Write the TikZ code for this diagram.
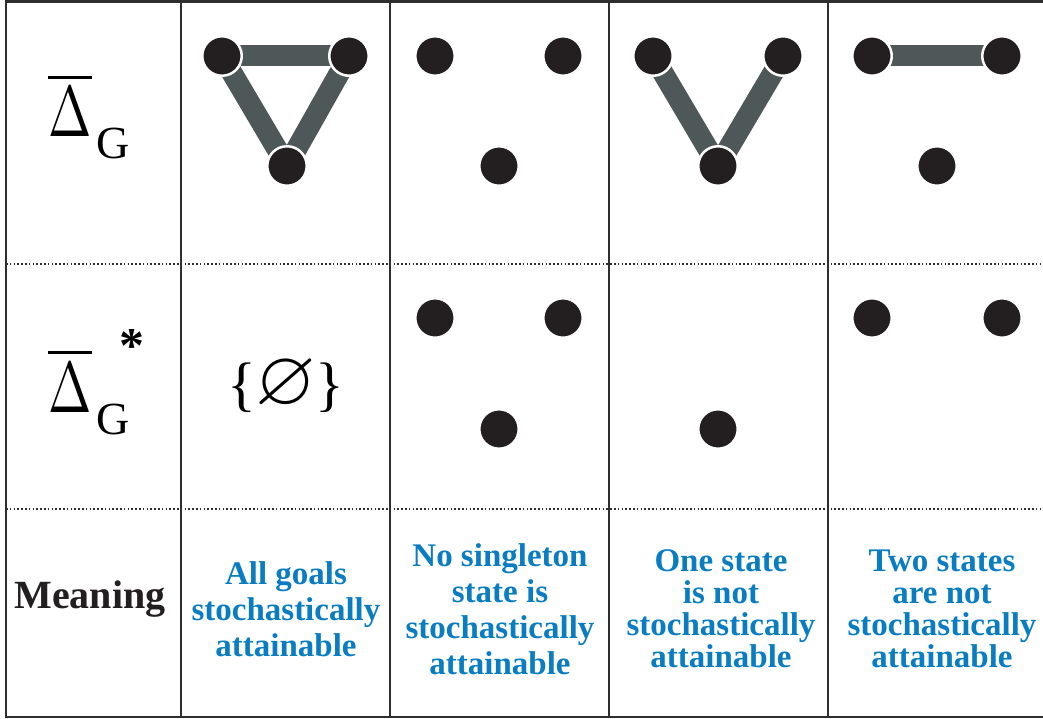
\documentclass[tikz,border=0pt]{standalone}
\usepackage{amssymb}
\usepackage{graphicx}
\usepackage{fontspec}
\setmainfont{Liberation Serif}
\usetikzlibrary{backgrounds}
\definecolor{cRule}{HTML}{2E2E2E}
\definecolor{cDot}{HTML}{231F20}
\definecolor{cLink}{HTML}{4F5858}
\definecolor{cText}{HTML}{0A7DC2}
\newcommand{\dbar}{$\overline{\mbox{\scalebox{5.2}[7.2]{\normalsize$\Delta$}}}$}

\begin{document}
\begin{tikzpicture}[
  x=1pt, y=-1pt,
  state/.style={circle, fill=cDot, draw=white, line width=2.5pt,
                minimum size=39.5pt, inner sep=0pt},
  link/.style={draw=cLink, line width=21pt},
  frame/.style={draw=cRule, line width=2.6pt},
  sep/.style={draw=cRule, line width=1.6pt, dash pattern=on 1.6pt off 2.2pt},
  sym/.style={font=\fontsize{71}{71}\selectfont, inner sep=0pt, anchor=base west},
  sub/.style={font=\fontsize{46}{46}\selectfont, inner sep=0pt, anchor=base west},
  head/.style={font=\fontsize{40}{40}\selectfont\bfseries, text=cDot, inner sep=0pt},
  mean/.style={font=\fontsize{33}{36}\selectfont\bfseries, text=cText,
               align=center, inner sep=0pt, anchor=base},
]
\useasboundingbox (0,0) rectangle (1043,719);

% ---------------- table grid ----------------
\draw[frame] (1043,1.5) -- (6,1.5) -- (6,717) -- (1043,717);
\foreach \x in {181,390,609,828} \draw[frame] (\x,1.5) -- (\x,717);
\foreach \y in {264,509} \draw[sep] (6,\y) -- (1043,\y);

% ---------------- row labels ----------------
\node[sym] (d1) at (48,137) {\dbar};
\node[sub] (g1) at (96,159) {G};
\node[sym] (d2) at (48,412) {\dbar};
\node[sub] (g2) at (96,434) {G};
\node[sub, font=\fontsize{50}{50}\selectfont\bfseries] (st) at (119,362) {*};
\node[head, anchor=base] (mng) at (90,608) {Meaning};

% ---------------- row 1: graphs ----------------
\node[state] (a1) at (222,56) {};
\node[state] (a2) at (349,56) {};
\node[state] (a3) at (287,166) {};
\node[state] (b1) at (435,56) {};
\node[state] (b2) at (563,56) {};
\node[state] (b3) at (499,166) {};
\node[state] (c1) at (653,56) {};
\node[state] (c2) at (783,56) {};
\node[state] (c3) at (718,166) {};
\node[state] (e1) at (872,56) {};
\node[state] (e2) at (1002,56) {};
\node[state] (e3) at (937,166) {};

\begin{scope}[on background layer]
  \draw[link] (a1.center) -- (a2.center);
  \draw[link] (a1.center) -- (a3.center);
  \draw[link] (a2.center) -- (a3.center);
  \draw[link] (c1.center) -- (c3.center);
  \draw[link] (c2.center) -- (c3.center);
  \draw[link] (e1.center) -- (e2.center);
\end{scope}

% ---------------- row 2: starred sets ----------------
\node[font=\fontsize{60}{60}\selectfont, inner sep=0pt] (none) at (286,386)
  {\{\kern-1pt\scalebox{1.3}{$\varnothing$}\kern-1pt\}};
\node[state] (p1) at (435,318) {};
\node[state] (p2) at (563,318) {};
\node[state] (p3) at (499,429) {};
\node[state] (q3) at (718,429) {};
\node[state] (r1) at (872,318) {};
\node[state] (r2) at (1002,318) {};

% ---------------- row 3: meaning ----------------
\node[mean] (m2) at (286,656) {All goals\\stochastically\\attainable};
\node[mean] (m3) at (500,674) {No singleton\\state is\\stochastically\\attainable};
\node[mean, font=\fontsize{33}{32}\selectfont\bfseries] (m4) at (721,667)
  {One state\\is not\\stochastically\\attainable};
\node[mean, font=\fontsize{33}{32}\selectfont\bfseries] (m5) at (942,667)
  {Two states\\are not\\stochastically\\attainable};

\end{tikzpicture}
\end{document}
